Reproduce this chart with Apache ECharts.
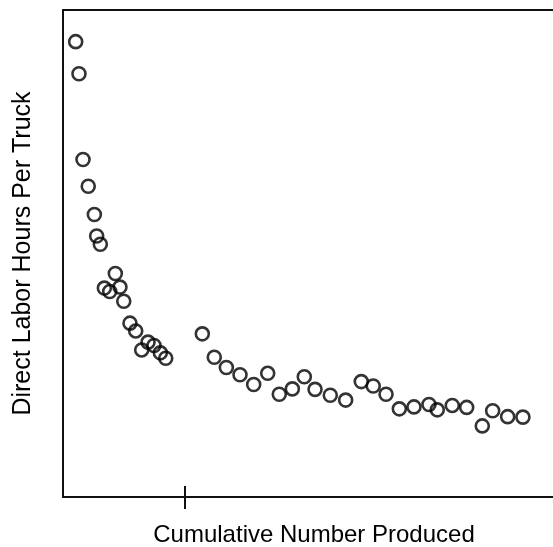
<!DOCTYPE html>
<html>
<head>
<meta charset="utf-8" />
<title>Learning curve</title>
<script src="https://cdn.jsdelivr.net/npm/echarts@6/dist/echarts.min.js"></script>
<style>
  html, body { margin: 0; padding: 0; background: #fff; }
  #main { width: 553px; height: 547px; }
</style>
</head>
<body>
<div id="main"></div>
<script type="text/javascript">
// cumulative number produced (arbitrary units, the tick sits at 100)
var produced = [10.4, 13.1, 16.4, 20.7, 25.7, 27.6, 30.6, 33.9, 38.3, 42.9, 46.7,
  49.8, 54.9, 59.6, 64.5, 69.7, 74.6, 79.8, 84.2, 114.2, 124.0, 133.9, 145.1,
  156.3, 167.8, 177.3, 188.0, 197.8, 206.6, 219.1, 231.7, 244.5, 254.3, 264.8,
  275.7, 287.7, 300.0, 306.8, 319.1, 330.9, 343.7, 352.2, 364.5, 377.0];
// direct labor hours per truck (arbitrary units)
var hours = [93.5, 86.9, 69.3, 63.8, 58.0, 53.6, 51.9, 42.9, 42.2, 45.9, 43.1,
  40.2, 35.7, 34.1, 30.2, 31.8, 31.1, 29.6, 28.5, 33.5, 28.7, 26.6, 25.1,
  23.1, 25.4, 21.1, 22.2, 24.7, 22.1, 20.9, 19.9, 23.7, 22.8, 21.1,
  18.1, 18.5, 19.0, 17.9, 18.8, 18.4, 14.6, 17.7, 16.5, 16.4];
var xTicks = [100];

var points = produced.map(function (v, i) { return [v, hours[i]]; });

var myChart = echarts.init(document.getElementById('main'));
var font = 'Liberation Sans, Arial, Helvetica, sans-serif';
var frame = { color: '#111', width: 2 };
var xMax = 411.5;

var option = {
  animation: false,
  grid: {
    left: 63, right: -12, top: 10, bottom: 50,
    outerBoundsMode: 'none'
  },
  xAxis: [{
    type: 'value',
    min: 0,
    max: xMax,
    name: 'Cumulative Number Produced',
    nameLocation: 'middle',
    nameGap: 26,
    nameTextStyle: { color: '#000', fontSize: 24, fontFamily: font },
    splitLine: { show: false },
    axisLine: { show: true, lineStyle: frame },
    axisLabel: { show: false },
    axisTick: { show: true, customValues: xTicks, length: 12, lineStyle: frame }
  }, {
    type: 'value',
    min: 0,
    max: xMax,
    position: 'bottom',
    splitLine: { show: false },
    axisLine: { show: false },
    axisLabel: { show: false },
    axisTick: { show: true, customValues: xTicks, inside: true, length: 11, lineStyle: frame }
  }, {
    type: 'value',
    min: 0,
    max: xMax,
    position: 'top',
    splitLine: { show: false },
    axisLine: { show: true, lineStyle: frame },
    axisLabel: { show: false },
    axisTick: { show: false }
  }],
  yAxis: {
    type: 'value',
    min: 0,
    max: 100,
    name: 'Direct Labor Hours Per Truck',
    nameLocation: 'middle',
    nameGap: 27,
    nameTextStyle: { color: '#000', fontSize: 25, fontFamily: font },
    splitLine: { show: false },
    axisLine: { show: true, lineStyle: frame },
    axisLabel: { show: false },
    axisTick: { show: false }
  },
  series: [{
    type: 'scatter',
    data: points,
    symbol: 'circle',
    symbolSize: 13,
    itemStyle: {
      color: 'transparent',
      borderColor: '#000',
      borderWidth: 2.6
    }
  }]
};
myChart.setOption(option);
</script>
</body>
</html>
